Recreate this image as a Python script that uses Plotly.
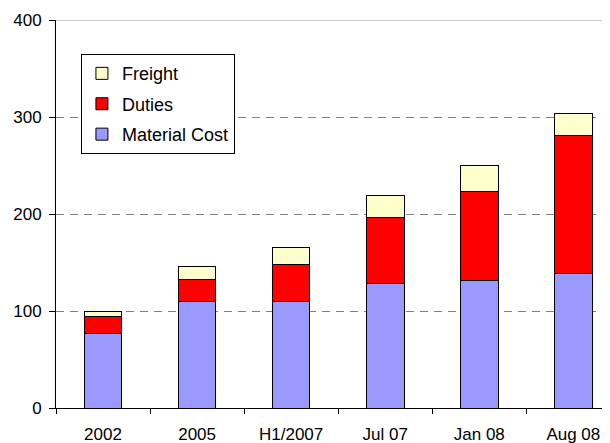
import plotly.graph_objects as go

categories = ["2002", "2005", "H1/2007", "Jul 07", "Jan 08", "Aug 08"]
material_cost = [77, 110, 110, 128, 131, 138.5]
duties = [17, 22, 38, 68.5, 92, 142]
freight = [6, 14, 17, 22.5, 27, 23]
y_ticks = [0, 100, 200, 300, 400]

FONT = "Liberation Sans, Arial, sans-serif"

fig = go.Figure()
for rank, (name, vals, color) in zip([3, 2, 1], [("Material Cost", material_cost, "#9999FF"),
                                                  ("Duties", duties, "#FF0000"),
                                                  ("Freight", freight, "#FFFFCC")]):
    fig.add_trace(go.Bar(x=categories, y=vals, name=name, legendgroup=name,
                         legendrank=rank,
                         marker=dict(color=color, line=dict(color="black", width=1)),
                         width=0.4))

fig.update_layout(
    barmode="stack",
    width=602, height=443,
    margin=dict(l=48, r=0, t=12, b=43),
    paper_bgcolor="white", plot_bgcolor="white",
    font=dict(family=FONT, size=17, color="black"),
    showlegend=True,
    legend=dict(x=0.045, y=0.912, xanchor="left", yanchor="top",
                traceorder="grouped", tracegroupgap=4,
                itemwidth=30, bgcolor="white",
                bordercolor="black", borderwidth=1,
                font=dict(family=FONT, size=18)),
    xaxis=dict(range=[-0.5, 5.39], showline=True, linecolor="black", linewidth=1,
               ticks="outside", tickson="boundaries", ticklen=5, tickcolor="black",
               ticklabelstandoff=11, showgrid=False, automargin=False),
    yaxis=dict(range=[0, 400], tickvals=y_ticks, showline=True, linecolor="black",
               linewidth=1, ticks="outside", ticklen=6, tickcolor="black",
               ticklabelstandoff=4, automargin=False,
               showgrid=True, gridcolor="#808080", griddash="8px,6px", gridwidth=1,
               zeroline=False),
)
fig.add_shape(type="line", xref="paper", yref="y", x0=0, x1=1, y0=400, y1=400,
              line=dict(color="#999999", width=1))
fig.write_html("out.html")
